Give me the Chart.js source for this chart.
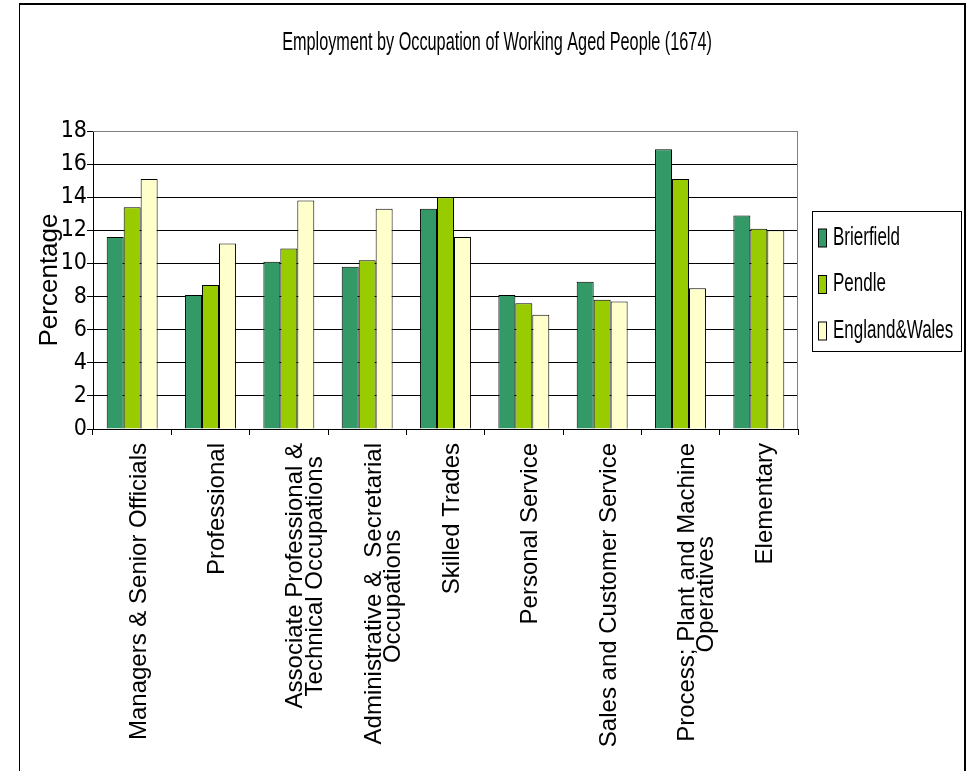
<!DOCTYPE html>
<html>
<head>
<meta charset="utf-8">
<title>Employment by Occupation</title>
<script src="https://cdn.jsdelivr.net/npm/chart.js@4.4.0/dist/chart.umd.min.js"></script>
<style>
  html, body { margin: 0; padding: 0; background: #fff; overflow: hidden; }
  #wrap { position: relative; width: 973px; height: 771px; }
  #frame { position: absolute; left: 19px; top: 3px; width: 944px; height: 820px;
           border-top: 2px solid #000; border-left: 1px solid #000; border-right: 2px solid #000; }
  #chart { position: absolute; left: 0; top: 0; }
</style>
</head>
<body>
<div id="wrap">
  <div id="frame"></div>
  <canvas id="chart" width="973" height="771"></canvas>
</div>
<script>
// Data
const chartTitle = 'Employment by Occupation of Working Aged People (1674)';
const occupations = [
    'Managers & Senior Officials',
    'Professional',
    ['Associate Professional &', 'Technical Occupations'],
    ['Administrative &  Secretarial', 'Occupations'],
    'Skilled Trades',
    'Personal Service',
    'Sales and Customer Service',
    ['Process; Plant and Machine', 'Operatives'],
    'Elementary'
];
const brierfield   = [11.6, 8.1, 10.1, 9.8, 13.3, 8.1, 8.9, 16.9, 12.9];
const pendle       = [13.4, 8.7, 10.9, 10.2, 14.0, 7.6, 7.8, 15.1, 12.1];
const englandWales = [15.1, 11.2, 13.8, 13.3, 11.6, 6.9, 7.7, 8.5, 12.0];
const yTicks = [0, 2, 4, 6, 8, 10, 12, 14, 16, 18];

const SANS = '"Liberation Sans", Arial, sans-serif';
const NARROW = '"Liberation Sans Narrow", "DejaVu Sans Condensed", ' + SANS;
const X_FONT_SIZE = 24;

// Pad the shorter line of a two line label so both lines sit centred
const measureCtx = document.createElement('canvas').getContext('2d');
function centreLines(label) {
    if (!Array.isArray(label)) return label;
    measureCtx.font = X_FONT_SIZE + 'px ' + SANS;
    let widths = label.map(l => measureCtx.measureText(l).width);
    let longest = Math.max(...widths);
    let space = measureCtx.measureText(' ').width;
    return label.map((l, i) => l + ' '.repeat(Math.round((longest - widths[i]) / 2 / space)));
}

// Title, legend box and grey plot border, drawn like the old spreadsheet chart
const chromePlugin = {
    id: 'chrome',
    beforeDatasetsDraw(chart) {
        let {ctx, chartArea} = chart;
        ctx.save();
        ctx.strokeStyle = '#808080';
        ctx.lineWidth = 1;
        ctx.beginPath();
        ctx.moveTo(chartArea.left, chartArea.top + 0.5);
        ctx.lineTo(chartArea.right - 0.5, chartArea.top + 0.5);
        ctx.lineTo(chartArea.right - 0.5, chartArea.bottom);
        ctx.stroke();
        ctx.restore();
    },
    afterDraw(chart) {
        let ctx = chart.ctx;
        ctx.save();
        ctx.fillStyle = '#000';
        ctx.textBaseline = 'middle';

        // Title (condensed)
        ctx.save();
        ctx.translate(497, 43);
        ctx.scale(0.65, 1);
        ctx.font = '25px ' + SANS;
        ctx.textAlign = 'center';
        ctx.fillText(chartTitle, 0, 0);
        ctx.restore();

        // Legend
        ctx.strokeStyle = '#000';
        ctx.lineWidth = 1;
        ctx.strokeRect(812.5, 211.5, 149, 140);
        chart.data.datasets.forEach((ds, i) => {
            let cy = 238 + i * 46.5;
            ctx.fillStyle = ds.backgroundColor;
            ctx.fillRect(818.5, cy - 9, 8, 18);
            ctx.strokeRect(818.5, cy - 9, 8, 18);
            ctx.save();
            ctx.translate(833, cy);
            ctx.scale(0.68, 1);
            ctx.fillStyle = '#000';
            ctx.font = '25px ' + SANS;
            ctx.textAlign = 'left';
            ctx.fillText(ds.label, 0, 0);
            ctx.restore();
        });
        ctx.restore();
    }
};

new Chart(document.getElementById('chart'), {
    type: 'bar',
    data: {
        labels: occupations,
        datasets: [
            { label: 'Brierfield', data: brierfield, backgroundColor: '#339966' },
            { label: 'Pendle', data: pendle, backgroundColor: '#99CC00' },
            { label: 'England&Wales', data: englandWales, backgroundColor: '#FFFFCC' }
        ]
    },
    options: {
        responsive: false,
        animation: false,
        devicePixelRatio: 1,
        layout: { padding: { left: 20, top: 131, right: 175, bottom: 0 } },
        datasets: {
            bar: {
                categoryPercentage: 0.65,
                barPercentage: 1.0,
                borderColor: '#000',
                borderWidth: 1
            }
        },
        plugins: {
            legend: { display: false },
            title: { display: false },
            tooltip: { enabled: false }
        },
        scales: {
            x: {
                afterFit(scale) { scale.height = 342; },
                grid: {
                    offset: true,
                    drawOnChartArea: false,
                    color: '#000',
                    tickLength: 6
                },
                border: { color: '#000', width: 1 },
                ticks: {
                    autoSkip: false,
                    minRotation: 90,
                    maxRotation: 90,
                    padding: 8,
                    labelOffset: 7,
                    color: '#000',
                    font: { family: SANS, size: X_FONT_SIZE, lineHeight: 0.8 },
                    callback: function (value) {
                        return centreLines(this.getLabelForValue(value));
                    }
                }
            },
            y: {
                min: 0,
                max: 18,
                afterFit(scale) { scale.width = 73; },
                afterBuildTicks(scale) { scale.ticks = yTicks.map(v => ({ value: v })); },
                grid: {
                    color: ctx => ctx.tick && ctx.tick.value === 18 ? '#808080' : '#000',
                    tickColor: '#000',
                    tickLength: 6
                },
                border: { color: '#000', width: 1 },
                ticks: {
                    autoSkip: false,
                    stepSize: 2,
                    padding: 0,
                    color: '#000',
                    font: { family: NARROW, size: 23 }
                },
                title: {
                    display: true,
                    text: 'Percentage',
                    color: '#000',
                    padding: { top: 14, bottom: 0 },
                    font: { family: SANS, size: 26 }
                }
            }
        }
    },
    plugins: [chromePlugin]
});
</script>
</body>
</html>
